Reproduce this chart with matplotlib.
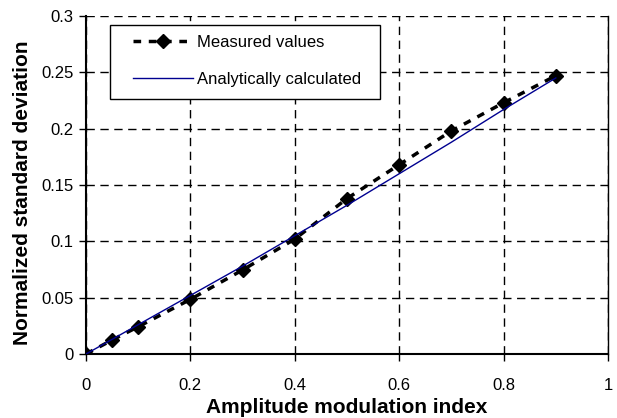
import numpy as np
import matplotlib.pyplot as plt
from matplotlib.patches import Rectangle

plt.rcParams['font.family'] = ['Liberation Sans', 'DejaVu Sans']

# measured points
mod_index = [0, 0.05, 0.1, 0.2, 0.3, 0.4, 0.5, 0.6, 0.7, 0.8, 0.9]
measured = [0, 0.0124, 0.0242, 0.0485, 0.0746, 0.102, 0.138, 0.168, 0.198, 0.223, 0.247]

# analytic curve
calc_index = [0, 0.1, 0.2, 0.3, 0.4, 0.5, 0.6, 0.7, 0.8, 0.9]
calculated = [0, 0.026, 0.052, 0.078, 0.105, 0.132, 0.160, 0.188, 0.217, 0.245]

x_ticks = [0, 0.2, 0.4, 0.6, 0.8, 1]
x_labels = ['0', '0.2', '0.4', '0.6', '0.8', '1']
y_ticks = [0, 0.05, 0.1, 0.15, 0.2, 0.25, 0.3]
y_labels = ['0', '0.05', '0.1', '0.15', '0.2', '0.25', '0.3']

W, H = 617, 418
L, R, T, B = 86, 608, 16, 354
fig = plt.figure(figsize=(W / 100, H / 100), dpi=100)
ax = fig.add_axes([L / W, 1 - B / H, (R - L) / W, (B - T) / H])

ax.plot(mod_index, measured, color='black', lw=2.5, ls=(0, (2.2, 2.2)),
        marker='D', markersize=7, label='Measured values', zorder=3)
ax.plot(calc_index, calculated, color='#000090', lw=1, label='Analytically calculated', zorder=4)

ax.set_xlim(0, 1)
ax.set_ylim(0, 0.3)
ax.set_xticks(x_ticks)
ax.set_xticklabels(x_labels)
ax.set_yticks(y_ticks)
ax.set_yticklabels(y_labels)
ax.tick_params(direction='out', length=5, width=1, labelsize=12, colors='black')
ax.tick_params(axis='x', pad=12)
ax.tick_params(axis='y', pad=4)

ax.grid(True, color='black', ls=(0, (6, 4)), lw=1)
ax.set_axisbelow(True)

for side in ['left', 'bottom']:
    ax.spines[side].set_linewidth(1.5)
ax.spines['right'].set_linewidth(1)
ax.spines['top'].set_visible(False)

ax.set_xlabel('Amplitude modulation index', fontsize=15, fontweight='bold')
ax.xaxis.set_label_coords(0.5, -(413 - B) / (B - T))
ax.xaxis.label.set_va('baseline')
ax.set_ylabel('Normalized standard deviation', fontsize=15, fontweight='bold')
ax.yaxis.set_label_coords(-54 / (R - L), 0.476)

# legend frame drawn by hand so its size matches the original
ax.add_patch(Rectangle(((110 - L) / (R - L), (B - 99) / (B - T)), (380 - 110) / (R - L),
                       (99 - 25) / (B - T), transform=ax.transAxes, facecolor='white',
                       edgecolor='black', lw=1, zorder=5))
leg = ax.legend(loc='upper left', bbox_to_anchor=((133 - L) / (R - L), (B - 35) / (B - T)),
                borderaxespad=0, borderpad=0, fontsize=12, frameon=False,
                handlelength=3.6, labelspacing=1.3, handletextpad=0.25)
leg.set_zorder(6)

fig.savefig('out.png', dpi=100)
